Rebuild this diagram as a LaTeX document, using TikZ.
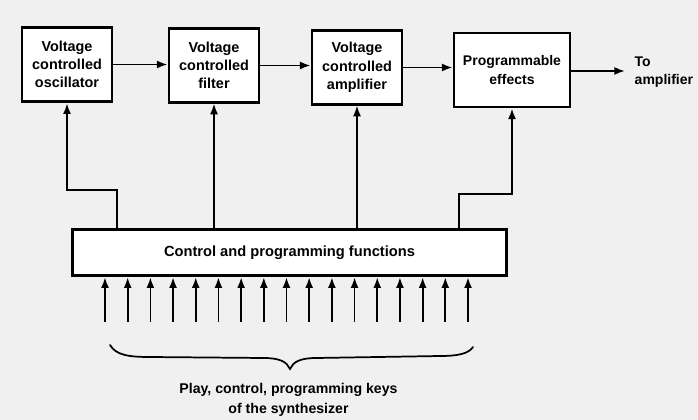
\documentclass[tikz,border=0pt]{standalone}
\usepackage{fontspec}
\newfontfamily\diagfont{Liberation Sans}
\usetikzlibrary{arrows.meta,shadows}

\tikzset{
  unit/.style={draw=black, line width=2.2pt, fill=white, align=center,
    inner sep=0pt, font=\diagfont\bfseries\fontsize{10.8}{13.75}\selectfont,
    drop shadow={shadow xshift=0.8pt, shadow yshift=-0.8pt, fill=black, opacity=1}},
  conn/.style={line width=1.3pt, -{Latex[length=8pt,width=6pt]}},
  wire/.style={line width=1.3pt},
  caption/.style={font=\diagfont\bfseries\fontsize{10.6}{14.5}\selectfont}
}

\begin{document}
\begin{tikzpicture}[x=0.75pt, y=-0.75pt]
  % page background
  \fill[black!6] (0,0) rectangle (698,420);
  \useasboundingbox (0,0) rectangle (698,420);

  % signal chain
  \node[unit, minimum width=67.5pt, minimum height=56pt] (vco) at (67,64.5)
    {Voltage\\controlled\\oscillator};
  \node[unit, minimum width=67.5pt, minimum height=55pt] (vcf) at (214,65.5)
    {Voltage\\controlled\\filter};
  \node[unit, minimum width=67.5pt, minimum height=55pt] (vca) at (357,67.5)
    {Voltage\\controlled\\amplifier};
  \node[unit, minimum width=87pt, minimum height=55.5pt,
        font=\diagfont\bfseries\fontsize{10.5}{13.75}\selectfont] (fx) at (512,70)
    {Programmable\\effects};

  % control block
  \node[unit, minimum width=326pt, minimum height=35pt,
        font=\diagfont\bfseries\fontsize{11}{13.75}\selectfont] (ctrl) at (289.5,252.5)
    {Control and programming functions};

  % forward path
  \draw[conn] (vco.east) -- (vco.east -| vcf.west);
  \draw[conn] (vcf.east) -- (vcf.east -| vca.west);
  \draw[conn] (vca.east) -- (vca.east -| fx.west);
  \coordinate (out) at (625,71);
  \draw[conn] (fx.east |- out) -- (out);
  \node[caption, anchor=west, align=left, font=\diagfont\bfseries\fontsize{10.5}{14}\selectfont]
    (outlbl) at (630,72) {To\\amplifier};

  % control lines up to each unit
  \coordinate (bendA) at (117,190);
  \coordinate (bendB) at (459,194);
  \draw[conn] (bendA |- ctrl.north) -- (bendA) -| (vco.south);
  \draw[conn] (vcf.south |- ctrl.north) -- (vcf.south);
  \draw[conn] (vca.south |- ctrl.north) -- (vca.south);
  \draw[conn] (bendB |- ctrl.north) -- (bendB) -| (fx.south);

  % key inputs
  \foreach \i in {0,...,16}{
    \coordinate (key\i) at ({105+\i*22.6875},322);
    \draw[conn] (key\i) -- (key\i |- ctrl.south);
  }

  % brace under the keys
  \coordinate (brL) at (110,345);
  \coordinate (brM) at (290,369);
  \coordinate (brR) at (473,347);
  \draw[wire, line cap=round] (brL) .. controls (116,355) and (128,357) .. (150,357)
    -- (264,358) .. controls (280,358) and (287,362) .. (brM)
    .. controls (293,362) and (300,358) .. (316,358)
    -- (440,356) .. controls (460,356) and (469,353) .. (brR);

  \node[caption, align=center] (keys) at (288.5,400)
    {Play, control, programming keys\\of the synthesizer};
\end{tikzpicture}
\end{document}
